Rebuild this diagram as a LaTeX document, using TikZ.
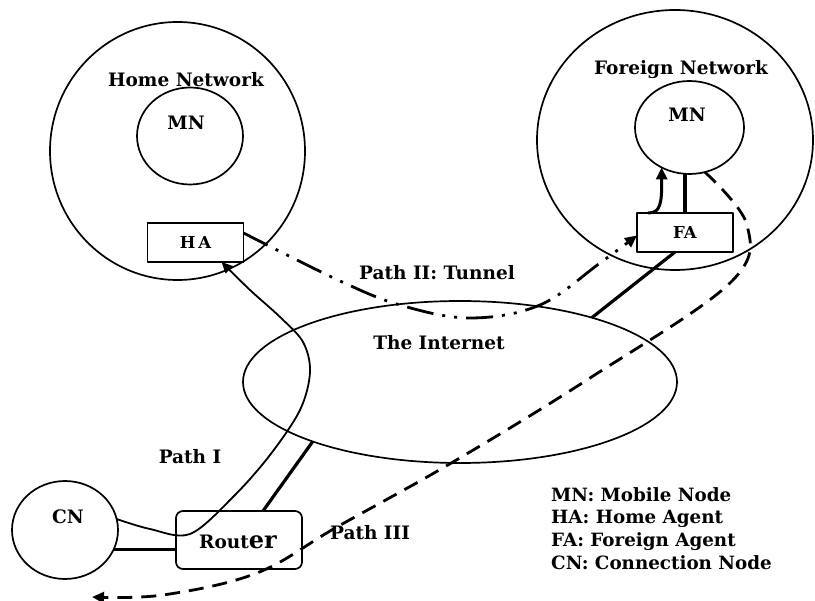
\documentclass[tikz,border=0pt]{standalone}
\usepackage{fontspec}
\setmainfont{DejaVu Serif}
\usetikzlibrary{shapes.geometric,arrows.meta}
\tikzset{
  net/.style={ellipse, draw, line width=1.7pt, inner sep=0pt, outer sep=0pt},
  agent/.style={rectangle, draw, line width=1.7pt, inner sep=0pt, outer sep=0pt, minimum width=96pt, minimum height=39pt, font=\fontsize{16.5}{18}\selectfont\bfseries},
  txt/.style={inner sep=0pt, font=\fontsize{18.5}{20}\selectfont\bfseries},
  link/.style={line width=3.2pt},
  pathone/.style={line width=1.8pt, -{Triangle[length=11pt,width=10pt]}},
  tunnel/.style={line width=2.8pt, dash pattern=on 27pt off 9pt on 3pt off 9pt on 3pt off 9pt, -{Triangle[length=12pt,width=11pt]}},
  paththree/.style={line width=2.8pt, dash pattern=on 15pt off 9pt, -{Triangle[length=12pt,width=11pt]}},
}
\begin{document}
\begin{tikzpicture}[x=1pt,y=-1pt,line join=round]
\useasboundingbox (0,0) rectangle (815,601);
% networks
\node[net, minimum width=255pt, minimum height=258pt] (home) at (177.5,151) {};
\node[net, minimum width=106pt, minimum height=97pt] (hmn) at (190,136) {};
\node[txt] (homelbl) at (186,80) {Home Network};
\node[txt] (hmnlbl) at (186,123) {MN};
\node[agent] (ha) at (195.5,242.5) {H\,A};

\node[net, minimum width=276pt, minimum height=260pt] (foreign) at (675,140) {};
\node[net, minimum width=109pt, minimum height=93pt] (fmn) at (689.5,127.5) {};
\node[txt] (foreignlbl) at (681,70) {Foreign Network};
\node[txt] (fmnlbl) at (687,115) {MN};
\node[agent] (fa) at (685,232.5) {FA};

\node[net, minimum width=434pt, minimum height=162pt] (internet) at (460,382) {};
\node[txt] (internetlbl) at (439,343) {The Internet};
\node[txt] (tunnellbl) at (437,273) {Path II: Tunnel};

\node[net, minimum width=106pt, minimum height=98pt] (cn) at (65,530) {};
\node[txt] (cnlbl) at (68,517) {CN};
\node[rectangle, rounded corners=7pt, draw, line width=1.7pt, minimum width=126pt, minimum height=58pt, inner sep=0pt, outer sep=0pt] (router) at (239,540) {};
\node[txt] (routerlbl) at (238,542) {Rout{\fontsize{24}{24}\selectfont er}};

\node[txt] (p1lbl) at (190,457) {Path I};
\node[txt] (p3lbl) at (370,533) {Path III};

\node[txt, anchor=west, align=left, font=\fontsize{18.3}{22.8}\selectfont\bfseries] (legend) at (551,528.5) {MN: Mobile Node\\HA: Home Agent\\FA: Foreign Agent\\CN: Connection Node};

% links
\draw[link] (cn.-22) -- (router.west |- cn.-22);
\draw[link] ([xshift=24pt]router.north) -- (internet.202);
\draw[link] (internet.26) -- ([xshift=-10pt]fa.south);
\draw[link] (fa.north) -- (fa.north |- fmn.south);
\draw[line width=3pt, -{Triangle[length=12pt,width=11pt]}] ([xshift=-37pt]fa.north) .. controls (660,213) and (662,205) .. (fmn.235);

% Path I
\draw[pathone] plot[smooth, tension=0.55] coordinates {(cn.12) (150,529) (190,534) (233,497) (270,455) (300,410) (310,372) (303,342) (280,317) (250,290) ([xshift=26pt]ha.south)};

% Path II tunnel
\draw[tunnel] plot[smooth, tension=0.6] coordinates {([yshift=9.5pt]ha.east) (338,280) (400,305) (470,318) (540,305) (600,263) ([yshift=-3pt]fa.west)};

% Path III
\coordinate (p3end) at (92,597);
\draw[paththree] plot[smooth, tension=0.6] coordinates {(fmn.-71) (747,225) (730,283) (590,378) (453,462) (337,527) (257,573) (163,595) (p3end)};
\end{tikzpicture}
\end{document}
